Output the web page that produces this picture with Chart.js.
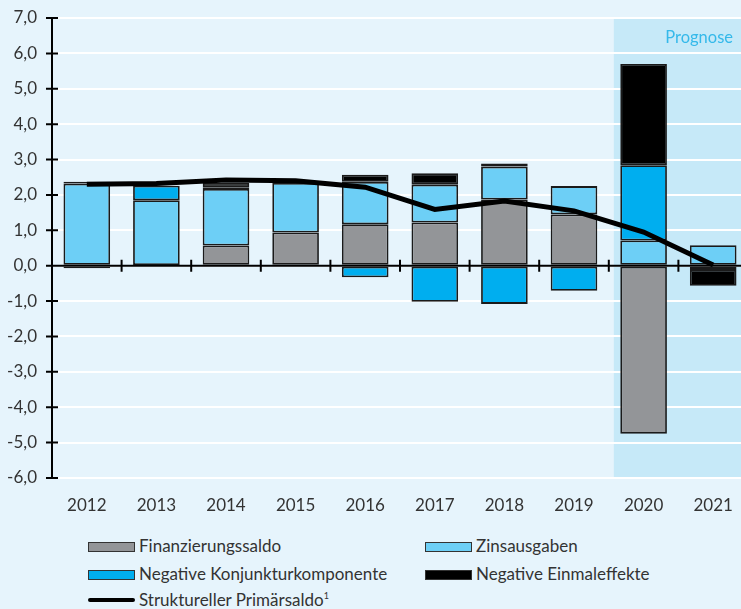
<!DOCTYPE html>
<html>
<head>
<meta charset="utf-8">
<script src="https://cdn.jsdelivr.net/npm/chart.js@4/dist/chart.umd.min.js"></script>
<style>
  html, body { margin: 0; padding: 0; background: #e6f4fc; overflow: hidden; }
  #wrap { position: relative; width: 741px; height: 609px; overflow: hidden; }
  #chart1 { position: absolute; left: 0; top: 0; }
  .prog { position: absolute; right: 8px; top: 27px; font: 16.5px Lato, sans-serif; color: #35b9ea; }
  .leg { position: absolute; font: 17px Lato, sans-serif; color: #333; white-space: nowrap; }
  .leg span.box { position: absolute; left: 0; top: 5px; width: 45px; height: 8px; border: 1px solid #333; }
  .leg span.line { position: absolute; left: 0; top: 7px; width: 47px; height: 4px; background: #000; border-radius: 2px; }
  .leg span.txt { position: absolute; left: 51px; top: -2px; }
  .leg sup { font-size: 9px; }
</style>
</head>
<body>
<div id="wrap">
  <canvas id="chart1" width="748" height="515"></canvas>
  <div class="prog">Prognose</div>
  <div id="legend"></div>
</div>
<script>
var years = ['2012', '2013', '2014', '2015', '2016', '2017', '2018', '2019', '2020', '2021'];
var finanzierungssaldo = [null, 0.02, 0.57, 0.94, 1.17, 1.22, 1.87, 1.45, -4.75, null];
var zinsausgaben = [2.32, 1.83, 1.6, 1.4, 1.2, 1.07, 0.93, 0.8, 0.71, 0.58];
var konjunktur = [-0.07, 0.41, 0.05, null, -0.33, -1.02, -1.08, -0.71, 2.13, -0.12];
var einmaleffekte = [0.05, null, 0.12, null, 0.2, 0.32, 0.09, null, 2.86, -0.45];
var primaersaldo = [2.3, 2.32, 2.42, 2.4, 2.22, 1.59, 1.83, 1.55, 0.95, 0.02];
var yTicks = [-6, -5, -4, -3, -2, -1, 0, 1, 2, 3, 4, 5, 6, 7];

var barStyle = { borderColor: '#1a1a1a', borderWidth: 1.8, borderSkipped: false, stack: 'b', order: 1,
                 barPercentage: 0.67, categoryPercentage: 1 };

// background, forecast shading, then axis lines with crossing ticks
var framePlugin = {
    id: 'frame',
    beforeDraw: function (chart) {
        var c = chart.ctx, a = chart.chartArea, x = chart.scales.x;
        c.save();
        c.fillStyle = '#e6f4fc';
        c.fillRect(0, 0, chart.width, chart.height);
        var step = x.getPixelForValue(1) - x.getPixelForValue(0);
        var start = x.getPixelForValue(8) - step / 2 + 5;
        c.fillStyle = '#c6e9f8';
        c.fillRect(start, a.top, chart.width - start, a.bottom - a.top);
        c.restore();
    },
    afterDatasetsDraw: function (chart) {
        var c = chart.ctx, a = chart.chartArea, x = chart.scales.x, y = chart.scales.y;
        c.save();
        c.strokeStyle = '#000';
        c.lineWidth = 2;
        c.beginPath();
        c.moveTo(a.left, a.top - 1);
        c.lineTo(a.left, a.bottom + 1);
        yTicks.forEach(function (v) {
            var py = y.getPixelForValue(v);
            c.moveTo(a.left - 6, py);
            c.lineTo(a.left + 6, py);
        });
        var y0 = y.getPixelForValue(0);
        c.moveTo(a.left, y0);
        c.lineTo(chart.width, y0);
        var step = x.getPixelForValue(1) - x.getPixelForValue(0);
        for (var i = 0; i < years.length; i++) {
            var px = x.getPixelForValue(i) + step / 2;
            c.moveTo(px, y0 - 6);
            c.lineTo(px, y0 + 6);
        }
        c.stroke();
        c.restore();
    }
};

var ctx1 = document.getElementById('chart1').getContext('2d');
var chart1 = new Chart(ctx1, {
    type: 'bar',
    data: {
        labels: years,
        datasets: [
            Object.assign({ label: 'Finanzierungssaldo', data: finanzierungssaldo, backgroundColor: '#939598' }, barStyle),
            Object.assign({ label: 'Zinsausgaben', data: zinsausgaben, backgroundColor: '#6dcff6' }, barStyle),
            Object.assign({ label: 'Negative Konjunkturkomponente', data: konjunktur, backgroundColor: '#00aeef' }, barStyle),
            Object.assign({ label: 'Negative Einmaleffekte', data: einmaleffekte, backgroundColor: '#000000' }, barStyle),
            {
                type: 'line',
                label: 'Struktureller Primärsaldo',
                data: primaersaldo,
                borderColor: '#000',
                borderWidth: 5,
                pointRadius: 0,
                tension: 0,
                stack: 'l',
                order: 0
            }
        ]
    },
    options: {
        responsive: false,
        animation: false,
        layout: { padding: { top: 18, left: 0, right: 0, bottom: 0 } },
        plugins: { legend: { display: false }, tooltip: { enabled: false } },
        scales: {
            x: {
                stacked: true,
                grid: { display: false },
                border: { display: false },
                ticks: { color: '#333', font: { family: 'Lato', size: 17 }, padding: 9 },
                afterFit: function (s) { s.height = 37; }
            },
            y: {
                stacked: true,
                min: -6,
                max: 7,
                // invisible tick length keeps the labels clear of the axis
                grid: { color: '#ffffff', lineWidth: 2, drawTicks: true, tickLength: 13, tickColor: 'rgba(0,0,0,0)' },
                border: { display: false },
                ticks: {
                    stepSize: 1,
                    color: '#333',
                    padding: 2,
                    font: { family: 'Lato', size: 17 },
                    callback: function (v) { return v.toFixed(1).replace('.', ','); }
                },
                afterFit: function (s) { s.width = 52; }
            }
        }
    },
    plugins: [framePlugin]
});

// legend built from the chart's datasets
var legendPos = [[88, 537], [425, 537], [88, 565], [425, 565], [88, 591]];
var legendHtml = '';
chart1.data.datasets.forEach(function (ds, i) {
    var p = legendPos[i];
    var mark = ds.type === 'line'
        ? '<span class="line"></span>'
        : '<span class="box" style="background:' + ds.backgroundColor + '"></span>';
    var text = ds.type === 'line' ? ds.label + '<sup>1</sup>' : ds.label;
    legendHtml += '<div class="leg" style="left:' + p[0] + 'px;top:' + p[1] + 'px">' + mark +
        '<span class="txt">' + text + '</span></div>';
});
document.getElementById('legend').innerHTML = legendHtml;
</script>
</body>
</html>
